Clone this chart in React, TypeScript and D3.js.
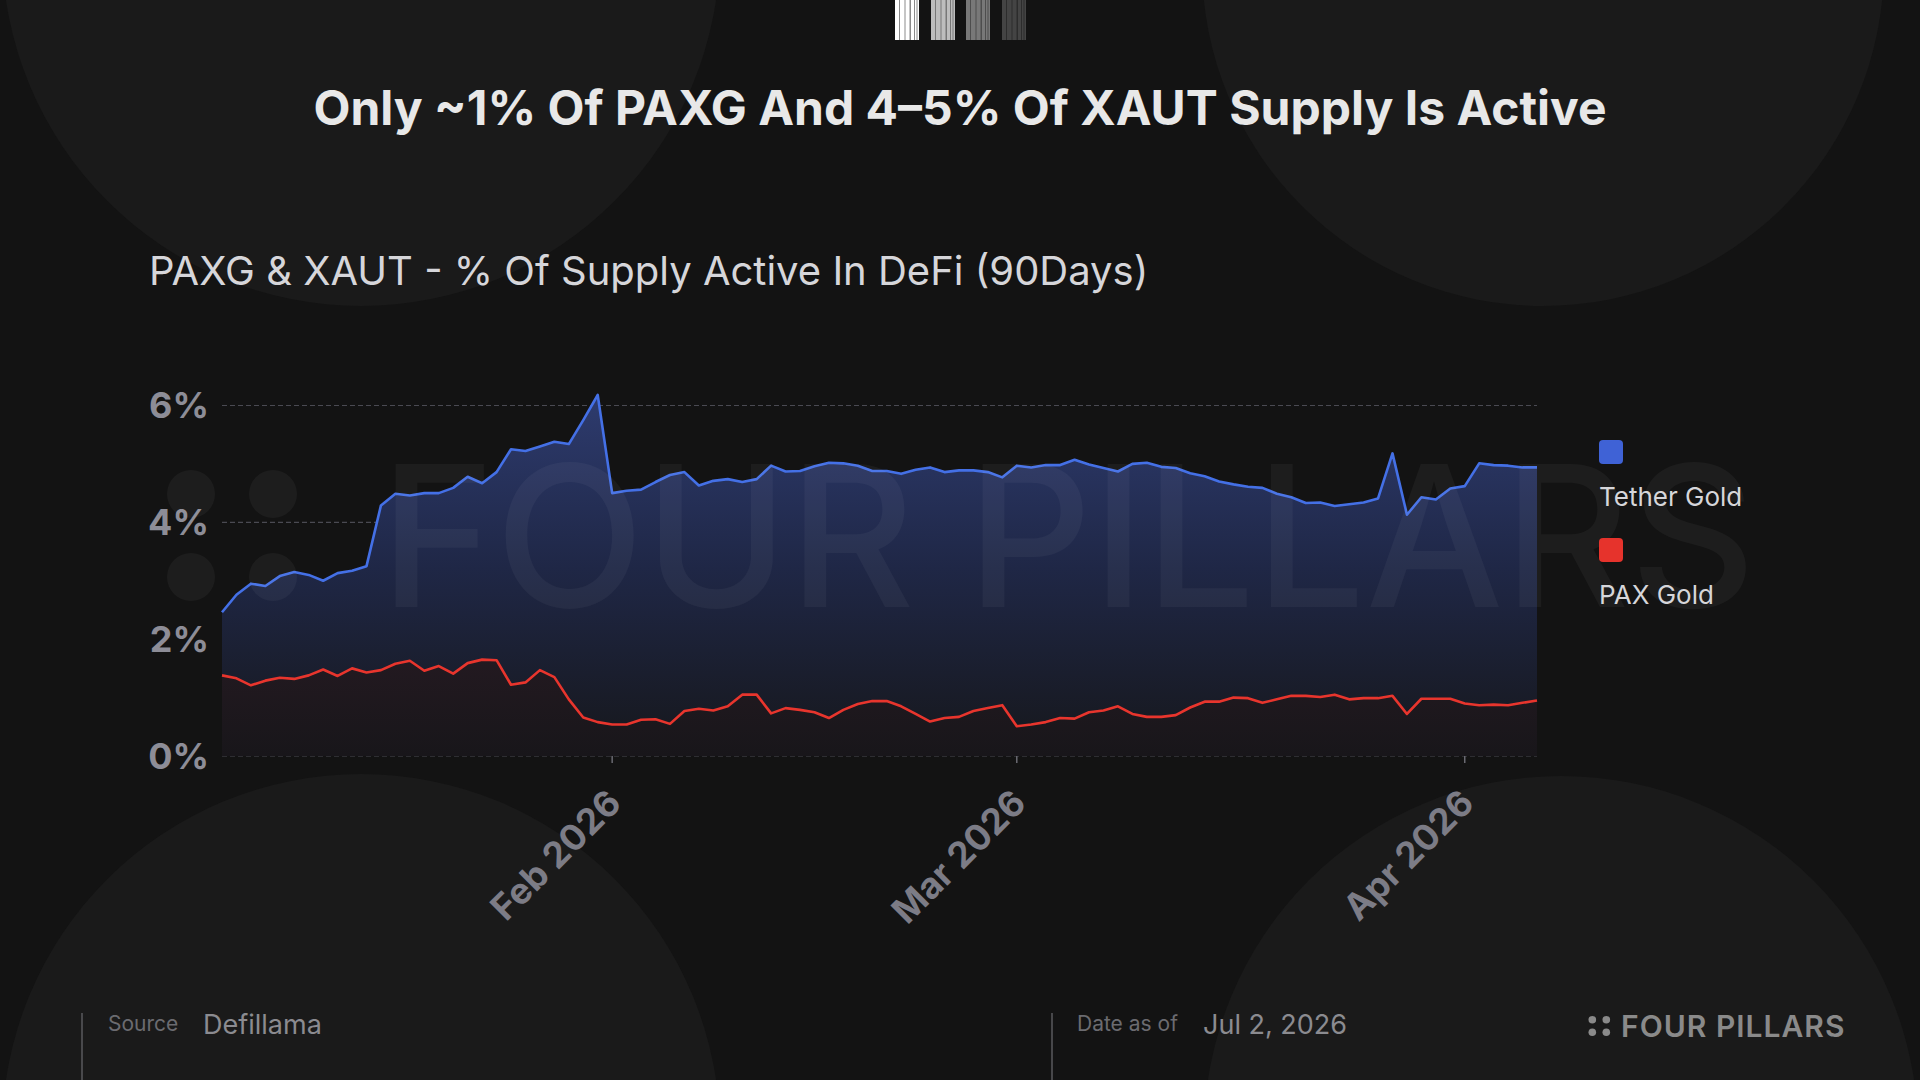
import React, { useEffect, useRef } from 'react';
import * as d3 from 'd3';

// daily points, 2026-01-05 .. 2026-04-06
const startDate = new Date(2026, 0, 5);

const tetherGold = [
  2.46, 2.76, 2.95, 2.91, 3.08, 3.15, 3.10, 3.00, 3.13, 3.17,
  3.25, 4.29, 4.49, 4.46, 4.50, 4.50, 4.59, 4.78, 4.67, 4.86,
  5.25, 5.22, 5.30, 5.38, 5.34, 5.75, 6.18, 4.50, 4.54, 4.56,
  4.69, 4.81, 4.86, 4.63, 4.71, 4.74, 4.69, 4.74, 4.97, 4.87,
  4.88, 4.96, 5.02, 5.01, 4.97, 4.88, 4.88, 4.83, 4.90, 4.94,
  4.86, 4.89, 4.89, 4.86, 4.77, 4.97, 4.94, 4.98, 4.98, 5.07,
  4.99, 4.93, 4.87, 5.00, 5.02, 4.95, 4.93, 4.84, 4.79, 4.70,
  4.65, 4.61, 4.59, 4.49, 4.43, 4.33, 4.34, 4.28, 4.31, 4.34,
  4.41, 5.18, 4.13, 4.43, 4.39, 4.58, 4.62, 5.01, 4.98, 4.97,
  4.94, 4.94,
];

const paxGold = [
  1.38, 1.33, 1.21, 1.29, 1.34, 1.32, 1.38, 1.48, 1.37, 1.50,
  1.43, 1.47, 1.58, 1.63, 1.46, 1.54, 1.41, 1.59, 1.65, 1.64,
  1.22, 1.26, 1.47, 1.35, 0.97, 0.66, 0.58, 0.54, 0.54, 0.62,
  0.63, 0.55, 0.77, 0.81, 0.78, 0.85, 1.05, 1.05, 0.73, 0.82,
  0.79, 0.75, 0.65, 0.79, 0.89, 0.94, 0.94, 0.85, 0.72, 0.59,
  0.65, 0.67, 0.77, 0.82, 0.87, 0.51, 0.54, 0.58, 0.65, 0.64,
  0.75, 0.78, 0.85, 0.72, 0.67, 0.67, 0.70, 0.83, 0.93, 0.93,
  1.00, 0.99, 0.91, 0.97, 1.03, 1.03, 1.01, 1.05, 0.97, 0.99,
  0.99, 1.03, 0.72, 0.98, 0.98, 0.98, 0.90, 0.87, 0.88, 0.87,
  0.91, 0.95,
];

const yTicks = [0, 2, 4, 6];
const seriesNames = ['Tether Gold', 'PAX Gold'];
const seriesColors = ['#3f62d6', '#e6332c'];

const title = 'Only ~1% Of PAXG And 4–5% Of XAUT Supply Is Active';
const subtitle = 'PAXG & XAUT - % Of Supply Active In DeFi (90Days)';

const W = 1920;
const H = 1080;
const FONT = 'Inter, "Noto Sans", sans-serif';

const App: React.FC = () => {
  const ref = useRef<SVGSVGElement>(null);

  useEffect(() => {
    if (!ref.current) return;
    const svg = d3.select(ref.current);
    svg.selectAll('*').remove();

    const margin = { top: 405.5, right: W - 1537, bottom: H - 756, left: 222 };
    const x0 = margin.left;
    const x1 = W - margin.right;
    const y0 = H - margin.bottom;
    const y1 = margin.top;

    const dates = tetherGold.map((_, i) => d3.timeDay.offset(startDate, i));
    const x = d3.scaleTime()
      .domain([dates[0], dates[dates.length - 1]])
      .range([x0, x1]);
    const y = d3.scaleLinear().domain([0, 6]).range([y0, y1]);

    const defs = svg.append('defs');
    const gb = defs.append('linearGradient')
      .attr('id', 'blueArea').attr('gradientUnits', 'userSpaceOnUse')
      .attr('x1', 0).attr('x2', 0).attr('y1', 380).attr('y2', y0);
    gb.append('stop').attr('offset', 0).attr('stop-color', '#2f3d72');
    gb.append('stop').attr('offset', 0.5).attr('stop-color', '#1f2746');
    gb.append('stop').attr('offset', 1).attr('stop-color', '#16171b');
    const gr = defs.append('linearGradient')
      .attr('id', 'redArea').attr('gradientUnits', 'userSpaceOnUse')
      .attr('x1', 0).attr('x2', 0).attr('y1', 560).attr('y2', y0);
    gr.append('stop').attr('offset', 0).attr('stop-color', '#2e1d27');
    gr.append('stop').attr('offset', 1).attr('stop-color', '#18161a');

    // background
    svg.append('rect').attr('width', W).attr('height', H).attr('fill', '#131313');
    const bgCircles = [
      { cx: 361, cy: -53, r: 359 },
      { cx: 1543, cy: -35, r: 341 },
      { cx: 361, cy: 1133, r: 359 },
      { cx: 1561, cy: 1133, r: 357 },
    ];
    svg.append('g').selectAll('circle').data(bgCircles).enter().append('circle')
      .attr('cx', d => d.cx).attr('cy', d => d.cy).attr('r', d => d.r)
      .attr('fill', '#1a1a1a');

    // barcode mark at top
    const groups = [
      { x: 895, base: '#8a8a8a', fg: '#ffffff' },
      { x: 931, base: '#777777', fg: '#bdbdbd' },
      { x: 966, base: '#4d4d4d', fg: '#787878' },
      { x: 1002, base: '#2c2c2c', fg: '#444444' },
    ];
    const stripes = [[0, 4], [5, 4.5], [10.5, 4], [16, 3], [20, 1.5], [22.5, 1.5]];
    const bc = svg.append('g');
    groups.forEach(gp => {
      bc.append('rect').attr('x', gp.x).attr('y', 0).attr('width', 24).attr('height', 40).attr('fill', gp.base);
      stripes.forEach(s => {
        bc.append('rect').attr('x', gp.x + s[0]).attr('y', 0).attr('width', s[1]).attr('height', 40).attr('fill', gp.fg);
      });
    });

    // titles
    svg.append('text').attr('x', W / 2).attr('y', 125).attr('text-anchor', 'middle')
      .attr('font-family', FONT).attr('font-size', 48).attr('font-weight', 700)
      .attr('fill', '#e8e8e8').text(title);
    svg.append('text').attr('x', 149).attr('y', 285)
      .attr('font-family', FONT).attr('font-size', 40).attr('font-weight', 400)
      .attr('fill', '#d6d6da').text(subtitle);

    // grid
    const g = svg.append('g');
    g.selectAll('.grid').data(yTicks).enter().append('line')
      .attr('x1', x0).attr('x2', x1)
      .attr('y1', d => y(d)).attr('y2', d => y(d))
      .attr('stroke', '#4a4a52').attr('stroke-width', 1.2)
      .attr('stroke-dasharray', '5 3');

    g.selectAll('.ylab').data(yTicks).enter().append('text')
      .attr('x', 209).attr('y', d => y(d)).attr('dy', '0.36em')
      .attr('text-anchor', 'end').attr('font-family', FONT)
      .attr('font-size', 36).attr('font-weight', 700).attr('fill', '#8d8d97')
      .text(d => `${d}%`);

    // areas and lines
    const area = (vals: number[]) => d3.area<number>()
      .x((_, i) => x(dates[i])).y0(y0).y1(d => y(d))(vals) as string;
    const line = (vals: number[]) => d3.line<number>()
      .x((_, i) => x(dates[i])).y(d => y(d))(vals) as string;

    g.append('path').attr('d', area(tetherGold)).attr('fill', 'url(#blueArea)');
    g.append('path').attr('d', area(paxGold)).attr('fill', 'url(#redArea)');

    // watermark
    const wm = svg.append('g').attr('fill', '#ffffff').attr('fill-opacity', 0.045);
    [[191, 494], [273, 494], [191, 577], [273, 577]].forEach(p => {
      wm.append('circle').attr('cx', p[0]).attr('cy', p[1]).attr('r', 24);
    });
    wm.append('text').attr('x', 380).attr('y', 607)
      .attr('font-family', FONT).attr('font-size', 196).attr('font-weight', 500)
      .attr('textLength', 1376).attr('lengthAdjust', 'spacingAndGlyphs')
      .text('FOUR PILLARS');

    g.append('path').attr('d', line(tetherGold)).attr('fill', 'none')
      .attr('stroke', '#4470e6').attr('stroke-width', 2.6).attr('stroke-linejoin', 'round');
    g.append('path').attr('d', line(paxGold)).attr('fill', 'none')
      .attr('stroke', '#e8352d').attr('stroke-width', 2.6).attr('stroke-linejoin', 'round');

    // x ticks
    const months = d3.timeMonth.range(dates[0], dates[dates.length - 1]);
    g.selectAll('.xtick').data(months).enter().append('line')
      .attr('x1', d => x(d)).attr('x2', d => x(d))
      .attr('y1', y0).attr('y2', y0 + 7)
      .attr('stroke', '#6a6a72').attr('stroke-width', 1.5);
    g.selectAll('.xlab').data(months).enter().append('text')
      .attr('transform', d => `translate(${x(d) + 2},${y0 + 40}) rotate(-45)`)
      .attr('text-anchor', 'end').attr('dy', '0.36em')
      .attr('font-family', FONT).attr('font-size', 36).attr('font-weight', 700)
      .attr('fill', '#7c7c86')
      .text(d => d3.timeFormat('%b %Y')(d));

    // legend
    const lg = svg.append('g');
    seriesNames.forEach((name, i) => {
      const ly = 440 + i * 98;
      lg.append('rect').attr('x', 1599).attr('y', ly).attr('width', 24).attr('height', 24)
        .attr('rx', 4).attr('fill', seriesColors[i]);
      lg.append('text').attr('x', 1599).attr('y', ly + 66)
        .attr('font-family', FONT).attr('font-size', 26).attr('fill', '#d6d6da').text(name);
    });

    // footer
    const ft = svg.append('g').attr('font-family', FONT);
    [82, 1052].forEach(lx => {
      ft.append('line').attr('x1', lx).attr('x2', lx).attr('y1', 1013).attr('y2', H)
        .attr('stroke', '#5a5a5e').attr('stroke-width', 1.5);
    });
    ft.append('text').attr('x', 108).attr('y', 1031).attr('font-size', 21).attr('fill', '#6b6b70').text('Source');
    ft.append('text').attr('x', 203).attr('y', 1034).attr('font-size', 27).attr('fill', '#8b8b90').text('Defillama');
    ft.append('text').attr('x', 1077).attr('y', 1031).attr('font-size', 21).attr('fill', '#6b6b70').text('Date as of');
    ft.append('text').attr('x', 1203).attr('y', 1034).attr('font-size', 27).attr('fill', '#8b8b90').text('Jul 2, 2026');

    [[1592.3, 1019.7], [1606.3, 1019.7], [1592.3, 1032.3], [1606.3, 1032.3]].forEach(p => {
      ft.append('circle').attr('cx', p[0]).attr('cy', p[1]).attr('r', 3.8).attr('fill', '#8a8a8a');
    });
    ft.append('text').attr('x', 1621).attr('y', 1037).attr('font-size', 30).attr('font-weight', 600)
      .attr('letter-spacing', 1).attr('fill', '#8a8a8a').text('FOUR PILLARS');
  }, []);

  return (
    <svg ref={ref} width={W} height={H}
      style={{ position: 'absolute', left: 0, top: 0, display: 'block' }} />
  );
};

export default App;
